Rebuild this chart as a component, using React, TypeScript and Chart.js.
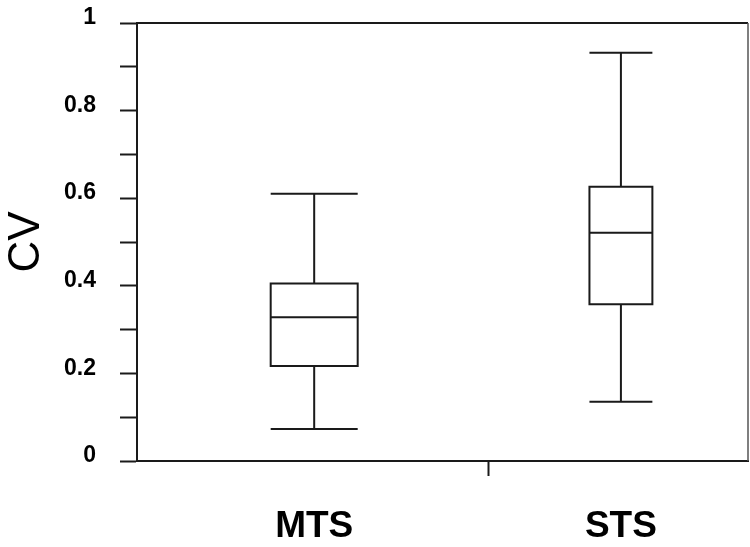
import React, { useEffect, useRef } from "react";
import { Chart, registerables } from "chart.js";

Chart.register(...registerables);

// ---- data ----
const categories = ["MTS", "STS"];
const categoryX = [0.29, 0.792]; // position on the hidden linear x scale
const separatorX = 0.576; // lone x-axis tick
const whiskerLow = [0.073, 0.135];
const q1 = [0.217, 0.358];
const median = [0.328, 0.521];
const q3 = [0.405, 0.626];
const whiskerHigh = [0.61, 0.932];
const boxHalfWidth = [0.0712, 0.0515]; // in x-scale units

const yTickStep = 0.1;

const FONT = "'Liberation Sans', Arial, Helvetica, sans-serif";
const INK = "#1a1a1a";

const boxPlugin = {
  id: "boxplots",
  afterDatasetsDraw(chart: any) {
    const { ctx, scales, chartArea } = chart;
    const xs = scales.x;
    const ys = scales.y;
    ctx.save();
    // frame top & right
    ctx.strokeStyle = INK;
    ctx.lineWidth = 2;
    ctx.beginPath();
    ctx.moveTo(chartArea.left, chartArea.top);
    ctx.lineTo(chartArea.right, chartArea.top);
    ctx.stroke();
    ctx.strokeStyle = "#555";
    ctx.lineWidth = 1.5;
    ctx.beginPath();
    ctx.moveTo(chartArea.right, chartArea.top);
    ctx.lineTo(chartArea.right, chartArea.bottom);
    ctx.stroke();

    ctx.strokeStyle = INK;
    ctx.lineWidth = 2;
    categories.forEach((_, i) => {
      const cx = xs.getPixelForValue(categoryX[i]);
      const l = xs.getPixelForValue(categoryX[i] - boxHalfWidth[i]);
      const r = xs.getPixelForValue(categoryX[i] + boxHalfWidth[i]);
      const yLo = ys.getPixelForValue(whiskerLow[i]);
      const yQ1 = ys.getPixelForValue(q1[i]);
      const yMed = ys.getPixelForValue(median[i]);
      const yQ3 = ys.getPixelForValue(q3[i]);
      const yHi = ys.getPixelForValue(whiskerHigh[i]);
      ctx.beginPath();
      ctx.rect(l, yQ3, r - l, yQ1 - yQ3);
      ctx.moveTo(l, yMed);
      ctx.lineTo(r, yMed);
      ctx.moveTo(cx, yQ3);
      ctx.lineTo(cx, yHi);
      ctx.moveTo(cx, yQ1);
      ctx.lineTo(cx, yLo);
      ctx.moveTo(l, yHi);
      ctx.lineTo(r, yHi);
      ctx.moveTo(l, yLo);
      ctx.lineTo(r, yLo);
      ctx.stroke();
    });
    ctx.restore();
  },
};

export default function App() {
  const ref = useRef<HTMLCanvasElement | null>(null);

  useEffect(() => {
    if (!ref.current) return;
    const xTickValues = [categoryX[0], separatorX, categoryX[1]];
    const xTickLabels = [categories[0], "", categories[1]];
    const chart = new Chart(ref.current, {
      type: "scatter",
      data: {
        datasets: [
          {
            data: categoryX.map((x, i) => ({ x, y: median[i] })),
            pointRadius: 0,
            showLine: false,
          },
        ],
      },
      options: {
        animation: false,
        responsive: false,
        devicePixelRatio: 1,
        layout: { padding: { top: 23, right: 2, left: 0, bottom: 0 } },
        plugins: { legend: { display: false }, tooltip: { enabled: false } },
        scales: {
          x: {
            type: "linear",
            min: 0,
            max: 1,
            afterBuildTicks: (scale: any) => {
              scale.ticks = xTickValues.map((v) => ({ value: v }));
            },
            afterFit: (scale: any) => {
              scale.height = 86;
              scale.paddingLeft = 0;
              scale.paddingRight = 0;
            },
            border: { display: true, color: INK, width: 2 },
            grid: {
              drawOnChartArea: false,
              drawTicks: true,
              tickLength: 15,
              tickWidth: 2,
              tickColor: (c: any) => (c.index === 1 ? INK : "rgba(0,0,0,0)"),
            },
            ticks: {
              autoSkip: false,
              maxRotation: 0,
              padding: 29,
              color: "#000",
              font: { family: FONT, size: 37, weight: "bold" },
              callback: (_v: any, i: number) => xTickLabels[i],
            },
          },
          y: {
            type: "linear",
            min: 0,
            max: 1,
            afterFit: (scale: any) => {
              scale.width = 137;
              scale.paddingTop = 0;
              scale.paddingBottom = 0;
            },
            border: { display: true, color: INK, width: 2 },
            grid: {
              drawOnChartArea: false,
              drawTicks: true,
              tickLength: 17,
              tickWidth: 2,
              tickColor: INK,
            },
            title: {
              display: true,
              text: "CV",
              color: "#000",
              font: { family: FONT, size: 44, weight: "normal" },
              padding: { top: 0, bottom: 0 },
            },
            ticks: {
              stepSize: yTickStep,
              autoSkip: false,
              padding: 24,
              color: "#000",
              font: { family: FONT, size: 23, weight: "bold", lineHeight: 0.45 },
              callback: (v: any) => {
                const n = Math.round(Number(v) * 10);
                if (n % 2 !== 0) return "";
                return [String(n / 10), ""];
              },
            },
          },
        },
      } as any,
      plugins: [boxPlugin],
    });
    return () => chart.destroy();
  }, []);

  return (
    <div style={{ position: "fixed", left: 0, top: 0, width: 750, height: 547, background: "#fff" }}>
      <canvas ref={ref} width={750} height={547} style={{ display: "block" }} />
    </div>
  );
}
